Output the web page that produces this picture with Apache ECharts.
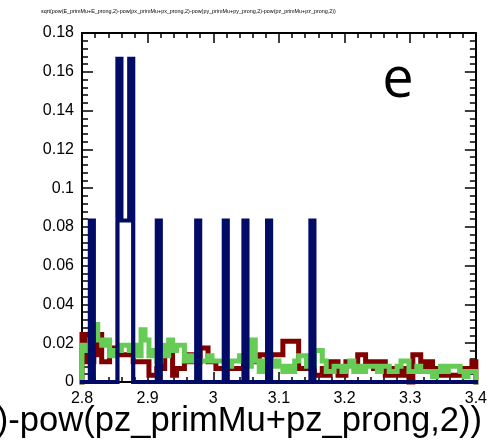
<!DOCTYPE html>
<html>
<head>
<meta charset="utf-8">
<script src="https://cdn.jsdelivr.net/npm/echarts@6/dist/echarts.min.js"></script>
<style>
  html, body { margin: 0; padding: 0; background: #fff; }
  #chart { width: 490px; height: 448px; }
</style>
</head>
<body>
<div id="chart"></div>
<script>
// Histogram binning: 100 bins between 2.8 and 3.4
const binStart = 2.8;
const binWidth = 0.006;

const xTicks = [2.8, 2.9, 3.0, 3.1, 3.2, 3.3, 3.4];
const yTicks = [0, 0.02, 0.04, 0.06, 0.08, 0.1, 0.12, 0.14, 0.16, 0.18];

const titleText = 'sqrt(pow(E_primMu+E_prong,2)-pow(px_primMu+px_prong,2)-pow(py_primMu+py_prong,2)-pow(pz_primMu+pz_prong,2))';
const panelTag = 'e';

// normalised bin contents
const redValues = [
  0.0245, 0.0105, 0.0105, 0.014, 0.0245, 0.0105, 0.0105, 0.0175, 0.0175, 0.014,
  0.014, 0.014, 0.014, 0.0105, 0.0105, 0.0105, 0.0105, 0.0035, 0.0035, 0.007,
  0.007, 0.0175, 0.014, 0.0035, 0.007, 0.007, 0.0105, 0.014, 0.0105, 0.0105,
  0.0175, 0.0175, 0.0105, 0.0105, 0.007, 0.007, 0.007, 0.007, 0.007, 0.007,
  0.007, 0.0105, 0.0105, 0.014, 0.0105, 0.014, 0.014, 0.0105, 0.014, 0.014,
  0.014, 0.021, 0.021, 0.021, 0.021, 0.007, 0.007, 0.007, 0.007, 0.0035,
  0.0035, 0.007, 0.0035, 0.0105, 0.0105, 0.0035, 0.0035, 0.0105, 0.0105, 0.0105,
  0.014, 0.014, 0.0105, 0.0105, 0.007, 0.0105, 0.0105, 0.0035, 0.0035, 0.007,
  0.0035, 0.007, 0.0035, 0, 0.014, 0.014, 0.0105, 0.007, 0.0105, 0.007,
  0.007, 0.0035, 0.0035, 0.0035, 0.0035, 0.0035, 0.007, 0.007, 0.007, 0.0105
];

const greenValues = [
  0.0189, 0.0162, 0.0216, 0.0297, 0.0216, 0.0189, 0.0216, 0.0135, 0.0162, 0.0162,
  0.0189, 0.0189, 0.0162, 0.0189, 0.0135, 0.027, 0.0216, 0.0135, 0.0162, 0.0108,
  0.0189, 0.0135, 0.0216, 0.0162, 0.0189, 0.0189, 0.0108, 0.0135, 0.0108, 0.0108,
  0.0108, 0.0108, 0.0135, 0.0108, 0.0108, 0.0108, 0.0108, 0.0081, 0.0108, 0.0108,
  0.0135, 0.0108, 0.0081, 0.0216, 0.0108, 0.0054, 0.0108, 0.0081, 0.0081, 0.0108,
  0.0081, 0.0054, 0.0081, 0.0054, 0.0108, 0.0135, 0.0135, 0.0081, 0.0081, 0.0162,
  0.0162, 0.0108, 0.0054, 0.0054, 0.0081, 0.0081, 0.0054, 0.0081, 0.0108, 0.0054,
  0.0081, 0.0054, 0.0081, 0.0081, 0.0081, 0.0054, 0.0081, 0.0081, 0.0054, 0.0054,
  0.0081, 0.0108, 0.0108, 0.0054, 0.0054, 0.0081, 0.0054, 0.0054, 0.0054, 0.0027,
  0.0054, 0.0081, 0.0054, 0.0081, 0.0081, 0.0081, 0.0054, 0.0027, 0.0054, 0.0054
];

const blueValues = [
  0, 0, 0.0833, 0, 0, 0, 0, 0, 0, 0.1667,
  0.0833, 0.0833, 0.1667, 0, 0, 0, 0, 0, 0, 0.0833,
  0, 0, 0, 0, 0, 0, 0, 0, 0, 0.0833,
  0, 0, 0, 0, 0, 0, 0.0833, 0, 0, 0,
  0, 0.0833, 0, 0, 0, 0, 0, 0.0833, 0, 0,
  0, 0, 0, 0, 0, 0, 0, 0, 0.0833, 0,
  0, 0, 0, 0, 0, 0, 0, 0, 0, 0,
  0, 0, 0, 0, 0, 0, 0, 0, 0, 0,
  0, 0, 0, 0, 0, 0, 0, 0, 0, 0,
  0, 0, 0, 0, 0, 0, 0, 0, 0, 0
];

// outline of a histogram: up from zero, across each bin, back down at the end
function stepOutline(values) {
  const pts = [[binStart, 0]];
  values.forEach(function (v, i) {
    const lo = +(binStart + i * binWidth).toFixed(4);
    const hi = +(binStart + (i + 1) * binWidth).toFixed(4);
    pts.push([lo, v], [hi, v]);
  });
  pts.push([+(binStart + values.length * binWidth).toFixed(4), 0]);
  return pts;
}

const FONT = '"Liberation Sans", Arial, Helvetica, sans-serif';

function histSeries(values, color, width, z) {
  return {
    type: 'line',
    data: stepOutline(values),
    showSymbol: false,
    symbol: 'none',
    clip: false,
    animation: false,
    z: z,
    lineStyle: { color: color, width: width, join: 'miter', cap: 'square' },
    emphasis: { disabled: true }
  };
}

function xAxisDef(pos, showLabels) {
  return {
    type: 'value',
    position: pos,
    min: xTicks[0],
    max: xTicks[xTicks.length - 1],
    interval: 0.1,
    axisLine: { show: true, onZero: false, lineStyle: { color: '#000', width: 2 } },
    axisTick: { show: true, inside: true, length: 10, lineStyle: { color: '#000', width: 1.5 } },
    minorTick: { show: true, splitNumber: 5, length: 5, lineStyle: { color: '#000', width: 1.5 } },
    splitLine: { show: false },
    axisLabel: {
      show: showLabels, color: '#000', fontSize: 16, fontFamily: FONT, margin: 9,
      formatter: function (v) { return String(+v.toFixed(2)); }
    }
  };
}

function yAxisDef(pos, showLabels) {
  return {
    type: 'value',
    position: pos,
    min: yTicks[0],
    max: yTicks[yTicks.length - 1],
    interval: 0.02,
    axisLine: { show: true, onZero: false, lineStyle: { color: '#000', width: 2 } },
    axisTick: { show: true, inside: true, length: 11, lineStyle: { color: '#000', width: 1.5 } },
    minorTick: { show: true, splitNumber: 5, length: 6, lineStyle: { color: '#000', width: 1.5 } },
    splitLine: { show: false },
    axisLabel: {
      show: showLabels, color: '#000', fontSize: 16, fontFamily: FONT, margin: 8,
      formatter: function (v) { return String(+v.toFixed(2)); }
    }
  };
}

const chart = echarts.init(document.getElementById('chart'), null, { renderer: 'canvas' });

chart.setOption({
  backgroundColor: '#fff',
  animation: false,
  grid: { left: 82, right: 11, top: 33, bottom: 66, containLabel: false },
  xAxis: [xAxisDef('bottom', true), xAxisDef('top', false)],
  yAxis: [yAxisDef('left', true), yAxisDef('right', false)],
  series: [
    histSeries(redValues, '#800000', 5, 2),
    histSeries(greenValues, '#66cc55', 5, 3),
    histSeries(blueValues, '#020b66', 4.2, 4)
  ],
  graphic: [
    {
      type: 'text', left: 41, top: 9, silent: true,
      style: { text: titleText, fontSize: 5.4, fontFamily: FONT, fill: '#000' }
    },
    {
      type: 'text', x: 482, y: 421, silent: true,
      style: {
        text: titleText, fontSize: 34.6, fontFamily: FONT, fill: '#000',
        align: 'right', verticalAlign: 'middle'
      }
    },
    {
      type: 'text', x: 398, y: 81, silent: true,
      style: {
        text: panelTag, fontSize: 56, fontFamily: '"Open Sans", sans-serif', fill: '#000',
        align: 'center', verticalAlign: 'middle'
      }
    }
  ]
});
</script>
</body>
</html>
